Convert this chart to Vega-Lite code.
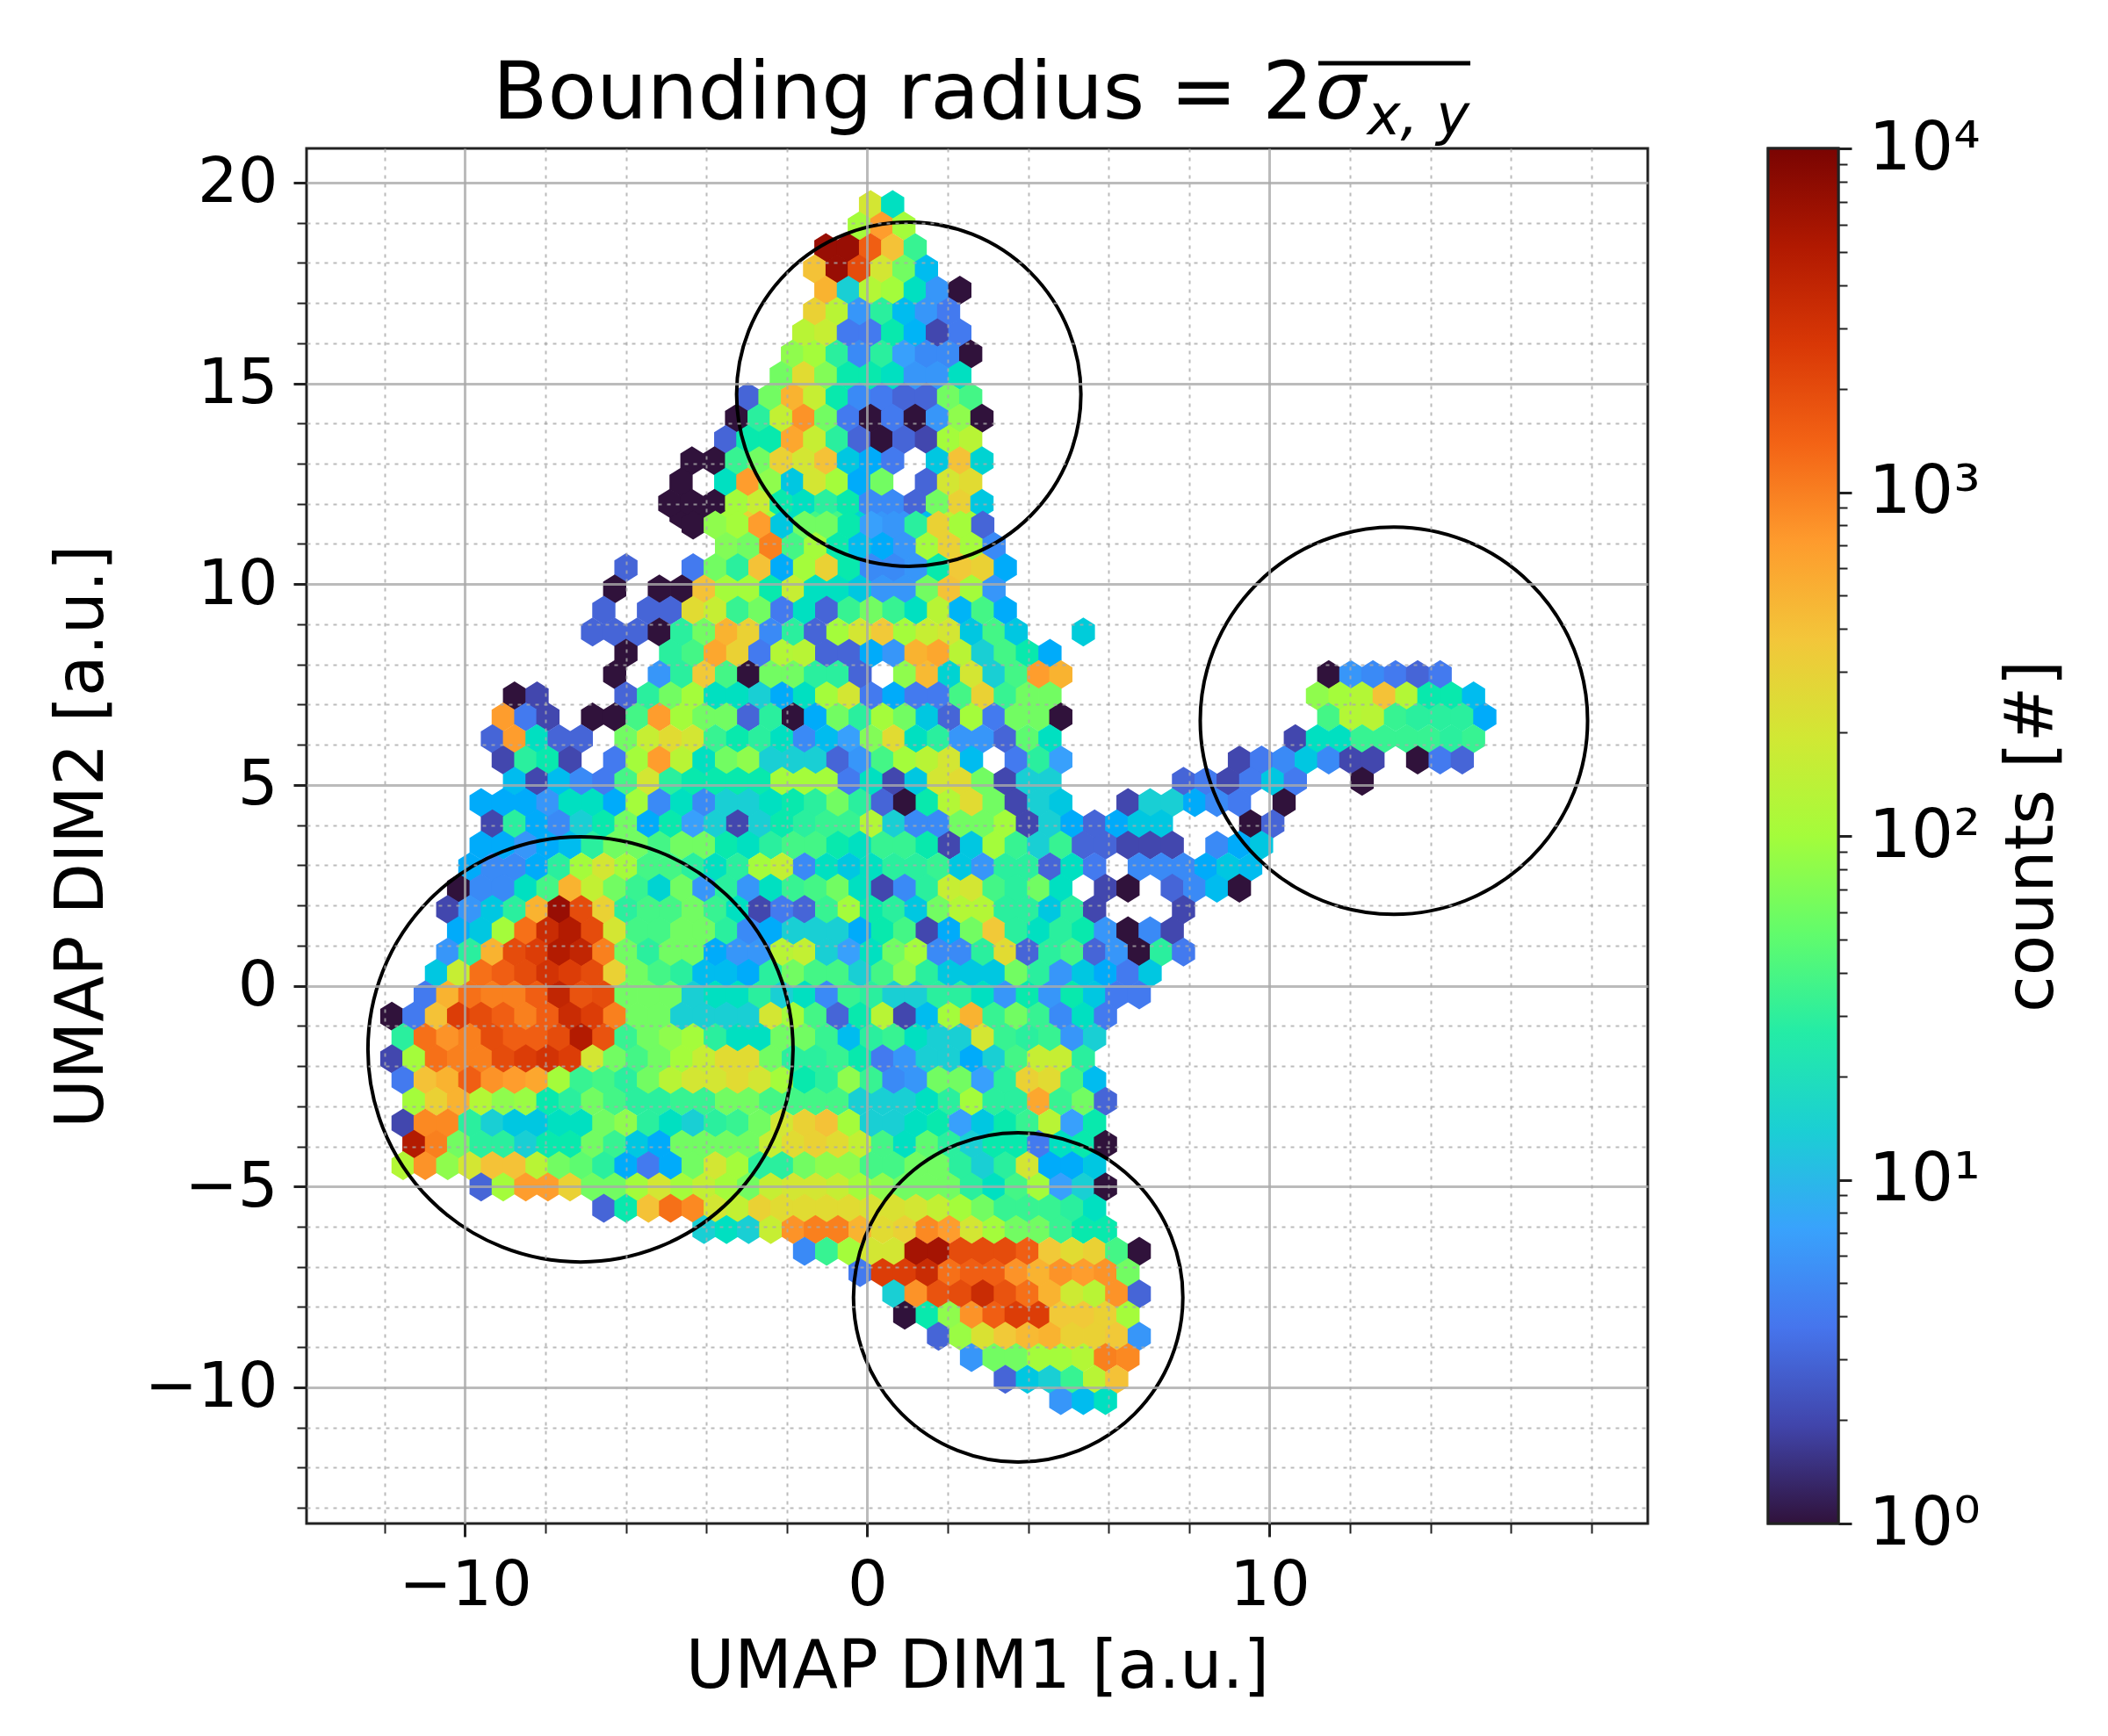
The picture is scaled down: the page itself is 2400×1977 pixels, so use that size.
{"$schema":"https://vega.github.io/schema/vega-lite/v6.json","padding":{"left":53,"top":60,"right":5,"bottom":5},"background":"white","config":{"font":"DejaVu Sans","view":{"stroke":"#222","strokeWidth":3}},"spacing":132,"datasets":{"hex":[
{"x":-4.63,"y":11.74,"c":1},{"x":-4.08,"y":11.74,"c":1},{"x":-3.52,"y":11.74,"c":100},{"x":-2.97,"y":11.74,"c":300},{"x":-2.42,"y":11.74,"c":100},{"x":-1.86,"y":11.74,"c":20},{"x":-1.31,"y":11.74,"c":40},{"x":-0.75,"y":11.74,"c":40},{"x":-0.2,"y":11.74,"c":15},{"x":0.36,"y":11.74,"c":6},{"x":0.91,"y":11.74,"c":6},{"x":1.47,"y":11.74,"c":10},{"x":2.02,"y":11.74,"c":150},{"x":2.57,"y":11.74,"c":100},
{"x":0.08,"y":19.45,"c":200},{"x":0.63,"y":19.45,"c":20},
{"x":-0.2,"y":18.92,"c":100},{"x":0.36,"y":18.92,"c":700},{"x":0.91,"y":18.92,"c":100},
{"x":-1.03,"y":18.38,"c":7000},{"x":-0.47,"y":18.38,"c":7000},{"x":0.08,"y":18.38,"c":1500},{"x":0.63,"y":18.38,"c":400},{"x":1.19,"y":18.38,"c":35},
{"x":-1.31,"y":17.85,"c":400},{"x":-0.75,"y":17.85,"c":7000},{"x":-0.2,"y":17.85,"c":2000},{"x":0.36,"y":17.85,"c":200},{"x":0.91,"y":17.85,"c":60},{"x":1.47,"y":17.85,"c":10},
{"x":-1.03,"y":17.32,"c":500},{"x":-0.47,"y":17.32,"c":14},{"x":0.08,"y":17.32,"c":120},{"x":0.63,"y":17.32,"c":100},{"x":1.19,"y":17.32,"c":20},{"x":1.74,"y":17.32,"c":6},{"x":2.3,"y":17.32,"c":1},
{"x":-1.31,"y":16.79,"c":300},{"x":-0.75,"y":16.79,"c":130},{"x":-0.2,"y":16.79,"c":6},{"x":0.36,"y":16.79,"c":30},{"x":0.91,"y":16.79,"c":10},{"x":1.47,"y":16.79,"c":6},{"x":2.02,"y":16.79,"c":4},
{"x":-1.58,"y":16.26,"c":130},{"x":-1.03,"y":16.26,"c":160},{"x":-0.47,"y":16.26,"c":4},{"x":0.08,"y":16.26,"c":4},{"x":0.63,"y":16.26,"c":25},{"x":1.19,"y":16.26,"c":9},{"x":1.74,"y":16.26,"c":2},{"x":2.3,"y":16.26,"c":4},
{"x":-1.86,"y":15.73,"c":80},{"x":-1.31,"y":15.73,"c":100},{"x":-0.75,"y":15.73,"c":30},{"x":-0.2,"y":15.73,"c":5},{"x":0.36,"y":15.73,"c":30},{"x":0.91,"y":15.73,"c":7},{"x":1.47,"y":15.73,"c":5},{"x":2.02,"y":15.73,"c":5},{"x":2.57,"y":15.73,"c":1},
{"x":-2.14,"y":15.2,"c":60},{"x":-1.58,"y":15.2,"c":250},{"x":-1.03,"y":15.2,"c":70},{"x":-0.47,"y":15.2,"c":25},{"x":0.08,"y":15.2,"c":25},{"x":0.63,"y":15.2,"c":20},{"x":1.19,"y":15.2,"c":6},{"x":1.74,"y":15.2,"c":6},{"x":2.3,"y":15.2,"c":20},
{"x":-2.97,"y":14.66,"c":3},{"x":-2.42,"y":14.66,"c":60},{"x":-1.86,"y":14.66,"c":500},{"x":-1.31,"y":14.66,"c":160},{"x":-0.75,"y":14.66,"c":25},{"x":-0.2,"y":14.66,"c":5},{"x":0.36,"y":14.66,"c":4},{"x":0.91,"y":14.66,"c":3},{"x":1.47,"y":14.66,"c":3},{"x":2.02,"y":14.66,"c":60},{"x":2.57,"y":14.66,"c":40},
{"x":-3.25,"y":14.13,"c":1},{"x":-2.69,"y":14.13,"c":30},{"x":-2.14,"y":14.13,"c":150},{"x":-1.58,"y":14.13,"c":800},{"x":-1.03,"y":14.13,"c":60},{"x":-0.47,"y":14.13,"c":4},{"x":0.08,"y":14.13,"c":1},{"x":0.63,"y":14.13,"c":4},{"x":1.19,"y":14.13,"c":1},{"x":1.74,"y":14.13,"c":6},{"x":2.3,"y":14.13,"c":80},{"x":2.85,"y":14.13,"c":1},
{"x":-3.52,"y":13.6,"c":3},{"x":-2.97,"y":13.6,"c":25},{"x":-2.42,"y":13.6,"c":25},{"x":-1.86,"y":13.6,"c":600},{"x":-1.31,"y":13.6,"c":160},{"x":-0.75,"y":13.6,"c":30},{"x":-0.2,"y":13.6,"c":3},{"x":0.36,"y":13.6,"c":1},{"x":0.91,"y":13.6,"c":3},{"x":1.47,"y":13.6,"c":2},{"x":2.02,"y":13.6,"c":100},{"x":2.57,"y":13.6,"c":130},
{"x":-4.36,"y":13.07,"c":1},{"x":-3.8,"y":13.07,"c":1},{"x":-3.25,"y":13.07,"c":35},{"x":-2.69,"y":13.07,"c":60},{"x":-2.14,"y":13.07,"c":300},{"x":-1.58,"y":13.07,"c":200},{"x":-1.03,"y":13.07,"c":400},{"x":-0.47,"y":13.07,"c":12},{"x":0.08,"y":13.07,"c":8},{"x":0.63,"y":13.07,"c":4},{"x":1.74,"y":13.07,"c":12},{"x":2.3,"y":13.07,"c":400},{"x":2.85,"y":13.07,"c":15},
{"x":-4.63,"y":12.54,"c":1},{"x":-3.52,"y":12.54,"c":20},{"x":-2.97,"y":12.54,"c":700},{"x":-2.42,"y":12.54,"c":80},{"x":-1.86,"y":12.54,"c":12},{"x":-1.31,"y":12.54,"c":200},{"x":-0.75,"y":12.54,"c":100},{"x":-0.2,"y":12.54,"c":8},{"x":0.36,"y":12.54,"c":60},{"x":1.47,"y":12.54,"c":3},{"x":2.02,"y":12.54,"c":200},{"x":2.57,"y":12.54,"c":250},
{"x":-4.91,"y":12.01,"c":1},{"x":-4.36,"y":12.01,"c":1},{"x":-3.8,"y":12.01,"c":1},{"x":-3.25,"y":12.01,"c":100},{"x":-2.69,"y":12.01,"c":160},{"x":-2.14,"y":12.01,"c":25},{"x":-1.58,"y":12.01,"c":20},{"x":-1.03,"y":12.01,"c":30},{"x":-0.47,"y":12.01,"c":25},{"x":0.08,"y":12.01,"c":5},{"x":0.63,"y":12.01,"c":5},{"x":1.19,"y":12.01,"c":3},{"x":1.74,"y":12.01,"c":60},{"x":2.3,"y":12.01,"c":300},{"x":2.85,"y":12.01,"c":12},
{"x":-4.33,"y":11.47,"c":1},{"x":-3.78,"y":11.47,"c":80},{"x":-3.22,"y":11.47,"c":100},{"x":-2.67,"y":11.47,"c":700},{"x":-2.12,"y":11.47,"c":12},{"x":-1.56,"y":11.47,"c":60},{"x":-1.01,"y":11.47,"c":60},{"x":-0.45,"y":11.47,"c":25},{"x":0.1,"y":11.47,"c":7},{"x":0.66,"y":11.47,"c":6},{"x":1.21,"y":11.47,"c":30},{"x":1.77,"y":11.47,"c":300},{"x":2.32,"y":11.47,"c":100},{"x":2.87,"y":11.47,"c":3},
{"x":-3.5,"y":10.94,"c":70},{"x":-2.95,"y":10.94,"c":60},{"x":-2.4,"y":10.94,"c":1000},{"x":-1.84,"y":10.94,"c":40},{"x":-1.29,"y":10.94,"c":100},{"x":-0.73,"y":10.94,"c":25},{"x":-0.18,"y":10.94,"c":10},{"x":0.38,"y":10.94,"c":8},{"x":0.93,"y":10.94,"c":6},{"x":1.49,"y":10.94,"c":100},{"x":2.04,"y":10.94,"c":300},{"x":2.59,"y":10.94,"c":100},{"x":3.15,"y":10.94,"c":5},
{"x":-6,"y":10.41,"c":3},{"x":-4.33,"y":10.41,"c":4},{"x":-3.78,"y":10.41,"c":60},{"x":-3.22,"y":10.41,"c":30},{"x":-2.67,"y":10.41,"c":400},{"x":-2.12,"y":10.41,"c":8},{"x":-1.56,"y":10.41,"c":100},{"x":-1.01,"y":10.41,"c":300},{"x":-0.45,"y":10.41,"c":25},{"x":0.1,"y":10.41,"c":5},{"x":0.66,"y":10.41,"c":5},{"x":1.21,"y":10.41,"c":6},{"x":1.77,"y":10.41,"c":25},{"x":2.32,"y":10.41,"c":350},{"x":2.87,"y":10.41,"c":300},{"x":3.43,"y":10.41,"c":8},
{"x":-6.28,"y":9.88,"c":1},{"x":-5.17,"y":9.88,"c":1},{"x":-4.61,"y":9.88,"c":1},{"x":-4.06,"y":9.88,"c":400},{"x":-3.5,"y":9.88,"c":100},{"x":-2.95,"y":9.88,"c":100},{"x":-2.4,"y":9.88,"c":25},{"x":-1.84,"y":9.88,"c":160},{"x":-1.29,"y":9.88,"c":20},{"x":-0.73,"y":9.88,"c":20},{"x":-0.18,"y":9.88,"c":12},{"x":0.38,"y":9.88,"c":6},{"x":0.93,"y":9.88,"c":6},{"x":1.49,"y":9.88,"c":60},{"x":2.04,"y":9.88,"c":400},{"x":2.59,"y":9.88,"c":100},{"x":3.15,"y":9.88,"c":6},
{"x":-6.55,"y":9.35,"c":3},{"x":-5.44,"y":9.35,"c":3},{"x":-4.89,"y":9.35,"c":3},{"x":-4.33,"y":9.35,"c":250},{"x":-3.78,"y":9.35,"c":160},{"x":-3.22,"y":9.35,"c":35},{"x":-2.67,"y":9.35,"c":60},{"x":-2.12,"y":9.35,"c":4},{"x":-1.56,"y":9.35,"c":20},{"x":-1.01,"y":9.35,"c":3},{"x":-0.45,"y":9.35,"c":35},{"x":0.1,"y":9.35,"c":60},{"x":0.66,"y":9.35,"c":35},{"x":1.21,"y":9.35,"c":20},{"x":1.77,"y":9.35,"c":130},{"x":2.32,"y":9.35,"c":9},{"x":2.87,"y":9.35,"c":40},{"x":3.43,"y":9.35,"c":8},
{"x":-6.83,"y":8.81,"c":3},{"x":-6.28,"y":8.81,"c":3},{"x":-5.72,"y":8.81,"c":3},{"x":-5.17,"y":8.81,"c":1},{"x":-4.61,"y":8.81,"c":30},{"x":-4.06,"y":8.81,"c":60},{"x":-3.5,"y":8.81,"c":500},{"x":-2.95,"y":8.81,"c":300},{"x":-2.4,"y":8.81,"c":5},{"x":-1.84,"y":8.81,"c":30},{"x":-1.29,"y":8.81,"c":3},{"x":-0.73,"y":8.81,"c":100},{"x":-0.18,"y":8.81,"c":200},{"x":0.38,"y":8.81,"c":350},{"x":0.93,"y":8.81,"c":100},{"x":1.49,"y":8.81,"c":160},{"x":2.04,"y":8.81,"c":200},{"x":2.59,"y":8.81,"c":12},{"x":3.15,"y":8.81,"c":40},{"x":3.7,"y":8.81,"c":12},{"x":5.37,"y":8.81,"c":13},
{"x":-6,"y":8.28,"c":1},{"x":-4.89,"y":8.28,"c":30},{"x":-4.33,"y":8.28,"c":40},{"x":-3.78,"y":8.28,"c":600},{"x":-3.22,"y":8.28,"c":300},{"x":-2.67,"y":8.28,"c":4},{"x":-2.12,"y":8.28,"c":120},{"x":-1.56,"y":8.28,"c":130},{"x":-1.01,"y":8.28,"c":3},{"x":-0.45,"y":8.28,"c":3},{"x":0.1,"y":8.28,"c":8},{"x":0.66,"y":8.28,"c":6},{"x":1.21,"y":8.28,"c":500},{"x":1.77,"y":8.28,"c":600},{"x":2.32,"y":8.28,"c":130},{"x":2.87,"y":8.28,"c":14},{"x":3.43,"y":8.28,"c":40},{"x":3.98,"y":8.28,"c":25},{"x":4.54,"y":8.28,"c":8},
{"x":-6.28,"y":7.75,"c":1},{"x":-5.17,"y":7.75,"c":6},{"x":-4.61,"y":7.75,"c":30},{"x":-4.06,"y":7.75,"c":350},{"x":-3.5,"y":7.75,"c":40},{"x":-2.95,"y":7.75,"c":1},{"x":-2.4,"y":7.75,"c":60},{"x":-1.84,"y":7.75,"c":60},{"x":-1.29,"y":7.75,"c":30},{"x":-0.73,"y":7.75,"c":30},{"x":-0.18,"y":7.75,"c":3},{"x":0.93,"y":7.75,"c":80},{"x":1.49,"y":7.75,"c":450},{"x":2.04,"y":7.75,"c":15},{"x":2.59,"y":7.75,"c":200},{"x":3.15,"y":7.75,"c":14},{"x":3.7,"y":7.75,"c":40},{"x":4.26,"y":7.75,"c":700},{"x":4.81,"y":7.75,"c":500},{"x":11.47,"y":7.75,"c":1},{"x":12.02,"y":7.75,"c":6},{"x":12.57,"y":7.75,"c":5},{"x":13.13,"y":7.75,"c":4},{"x":13.68,"y":7.75,"c":3},{"x":14.24,"y":7.75,"c":4},
{"x":-8.77,"y":7.22,"c":1},{"x":-8.21,"y":7.22,"c":2},{"x":-6,"y":7.22,"c":3},{"x":-5.44,"y":7.22,"c":30},{"x":-4.89,"y":7.22,"c":60},{"x":-4.33,"y":7.22,"c":100},{"x":-3.78,"y":7.22,"c":20},{"x":-3.22,"y":7.22,"c":20},{"x":-2.67,"y":7.22,"c":14},{"x":-2.12,"y":7.22,"c":8},{"x":-1.56,"y":7.22,"c":20},{"x":-1.01,"y":7.22,"c":100},{"x":-0.45,"y":7.22,"c":200},{"x":0.1,"y":7.22,"c":4},{"x":0.66,"y":7.22,"c":8},{"x":1.21,"y":7.22,"c":4},{"x":1.77,"y":7.22,"c":4},{"x":2.32,"y":7.22,"c":40},{"x":2.87,"y":7.22,"c":300},{"x":3.43,"y":7.22,"c":35},{"x":3.98,"y":7.22,"c":60},{"x":4.54,"y":7.22,"c":60},{"x":11.19,"y":7.22,"c":80},{"x":11.75,"y":7.22,"c":100},{"x":12.3,"y":7.22,"c":120},{"x":12.85,"y":7.22,"c":400},{"x":13.41,"y":7.22,"c":120},{"x":13.96,"y":7.22,"c":25},{"x":14.52,"y":7.22,"c":25},{"x":15.07,"y":7.22,"c":10},
{"x":-9.05,"y":6.69,"c":700},{"x":-8.49,"y":6.69,"c":4},{"x":-7.94,"y":6.69,"c":2},{"x":-6.83,"y":6.69,"c":1},{"x":-6.28,"y":6.69,"c":1},{"x":-5.72,"y":6.69,"c":40},{"x":-5.17,"y":6.69,"c":700},{"x":-4.61,"y":6.69,"c":100},{"x":-4.06,"y":6.69,"c":60},{"x":-3.5,"y":6.69,"c":60},{"x":-2.95,"y":6.69,"c":3},{"x":-2.4,"y":6.69,"c":30},{"x":-1.84,"y":6.69,"c":1},{"x":-1.29,"y":6.69,"c":8},{"x":-0.73,"y":6.69,"c":60},{"x":-0.18,"y":6.69,"c":30},{"x":0.38,"y":6.69,"c":100},{"x":0.93,"y":6.69,"c":60},{"x":1.49,"y":6.69,"c":12},{"x":2.04,"y":6.69,"c":3},{"x":2.59,"y":6.69,"c":100},{"x":3.15,"y":6.69,"c":4},{"x":3.7,"y":6.69,"c":60},{"x":4.26,"y":6.69,"c":60},{"x":4.81,"y":6.69,"c":1},{"x":11.47,"y":6.69,"c":40},{"x":12.02,"y":6.69,"c":120},{"x":12.57,"y":6.69,"c":130},{"x":13.13,"y":6.69,"c":35},{"x":13.68,"y":6.69,"c":30},{"x":14.24,"y":6.69,"c":30},{"x":14.79,"y":6.69,"c":30},{"x":15.35,"y":6.69,"c":8},
{"x":-9.32,"y":6.15,"c":3},{"x":-8.77,"y":6.15,"c":700},{"x":-8.21,"y":6.15,"c":20},{"x":-7.66,"y":6.15,"c":3},{"x":-7.11,"y":6.15,"c":3},{"x":-6,"y":6.15,"c":60},{"x":-5.44,"y":6.15,"c":160},{"x":-4.89,"y":6.15,"c":250},{"x":-4.33,"y":6.15,"c":200},{"x":-3.78,"y":6.15,"c":35},{"x":-3.22,"y":6.15,"c":25},{"x":-2.67,"y":6.15,"c":30},{"x":-2.12,"y":6.15,"c":20},{"x":-1.56,"y":6.15,"c":5},{"x":-1.01,"y":6.15,"c":10},{"x":-0.45,"y":6.15,"c":7},{"x":0.1,"y":6.15,"c":70},{"x":0.66,"y":6.15,"c":250},{"x":1.21,"y":6.15,"c":20},{"x":1.77,"y":6.15,"c":30},{"x":2.32,"y":6.15,"c":6},{"x":2.87,"y":6.15,"c":6},{"x":3.43,"y":6.15,"c":3},{"x":3.98,"y":6.15,"c":50},{"x":4.54,"y":6.15,"c":20},{"x":10.64,"y":6.15,"c":2},{"x":11.19,"y":6.15,"c":20},{"x":11.75,"y":6.15,"c":20},{"x":12.3,"y":6.15,"c":35},{"x":12.85,"y":6.15,"c":35},{"x":13.41,"y":6.15,"c":35},{"x":13.96,"y":6.15,"c":35},{"x":14.52,"y":6.15,"c":30},{"x":15.07,"y":6.15,"c":35},
{"x":-9.05,"y":5.62,"c":2},{"x":-8.49,"y":5.62,"c":30},{"x":-7.94,"y":5.62,"c":25},{"x":-7.39,"y":5.62,"c":2},{"x":-6.28,"y":5.62,"c":4},{"x":-5.72,"y":5.62,"c":100},{"x":-5.17,"y":5.62,"c":700},{"x":-4.61,"y":5.62,"c":130},{"x":-4.06,"y":5.62,"c":20},{"x":-3.5,"y":5.62,"c":60},{"x":-2.95,"y":5.62,"c":80},{"x":-2.4,"y":5.62,"c":14},{"x":-1.84,"y":5.62,"c":14},{"x":-1.29,"y":5.62,"c":14},{"x":-0.73,"y":5.62,"c":3},{"x":-0.18,"y":5.62,"c":6},{"x":0.38,"y":5.62,"c":40},{"x":0.93,"y":5.62,"c":100},{"x":1.49,"y":5.62,"c":130},{"x":2.04,"y":5.62,"c":200},{"x":2.59,"y":5.62,"c":10},{"x":3.7,"y":5.62,"c":4},{"x":4.26,"y":5.62,"c":30},{"x":4.81,"y":5.62,"c":7},{"x":9.25,"y":5.62,"c":2},{"x":9.8,"y":5.62,"c":4},{"x":10.36,"y":5.62,"c":5},{"x":10.91,"y":5.62,"c":12},{"x":11.47,"y":5.62,"c":5},{"x":12.02,"y":5.62,"c":2},{"x":12.57,"y":5.62,"c":2},{"x":13.68,"y":5.62,"c":1},{"x":14.24,"y":5.62,"c":4},{"x":14.79,"y":5.62,"c":3},
{"x":-8.77,"y":5.09,"c":10},{"x":-8.21,"y":5.09,"c":2},{"x":-7.66,"y":5.09,"c":10},{"x":-7.11,"y":5.09,"c":5},{"x":-6.55,"y":5.09,"c":4},{"x":-6,"y":5.09,"c":40},{"x":-5.44,"y":5.09,"c":200},{"x":-4.89,"y":5.09,"c":30},{"x":-4.33,"y":5.09,"c":25},{"x":-3.78,"y":5.09,"c":25},{"x":-3.22,"y":5.09,"c":25},{"x":-2.67,"y":5.09,"c":25},{"x":-2.12,"y":5.09,"c":100},{"x":-1.56,"y":5.09,"c":100},{"x":-1.01,"y":5.09,"c":100},{"x":-0.45,"y":5.09,"c":4},{"x":0.1,"y":5.09,"c":20},{"x":0.66,"y":5.09,"c":2},{"x":1.21,"y":5.09,"c":12},{"x":1.77,"y":5.09,"c":200},{"x":2.32,"y":5.09,"c":250},{"x":2.87,"y":5.09,"c":60},{"x":3.43,"y":5.09,"c":2},{"x":3.98,"y":5.09,"c":14},{"x":4.54,"y":5.09,"c":14},{"x":7.86,"y":5.09,"c":3},{"x":8.42,"y":5.09,"c":4},{"x":8.97,"y":5.09,"c":2},{"x":9.53,"y":5.09,"c":4},{"x":10.08,"y":5.09,"c":12},{"x":10.64,"y":5.09,"c":4},{"x":12.3,"y":5.09,"c":1},
{"x":-9.6,"y":4.56,"c":8},{"x":-9.05,"y":4.56,"c":8},{"x":-8.49,"y":4.56,"c":8},{"x":-7.94,"y":4.56,"c":6},{"x":-7.39,"y":4.56,"c":20},{"x":-6.83,"y":4.56,"c":20},{"x":-6.28,"y":4.56,"c":8},{"x":-5.72,"y":4.56,"c":100},{"x":-5.17,"y":4.56,"c":5},{"x":-4.61,"y":4.56,"c":20},{"x":-4.06,"y":4.56,"c":5},{"x":-3.5,"y":4.56,"c":14},{"x":-2.95,"y":4.56,"c":14},{"x":-2.4,"y":4.56,"c":20},{"x":-1.84,"y":4.56,"c":25},{"x":-1.29,"y":4.56,"c":30},{"x":-0.73,"y":4.56,"c":60},{"x":-0.18,"y":4.56,"c":30},{"x":0.38,"y":4.56,"c":3},{"x":0.93,"y":4.56,"c":1},{"x":1.49,"y":4.56,"c":25},{"x":2.04,"y":4.56,"c":120},{"x":2.59,"y":4.56,"c":250},{"x":3.15,"y":4.56,"c":60},{"x":3.7,"y":4.56,"c":2},{"x":4.26,"y":4.56,"c":14},{"x":4.81,"y":4.56,"c":12},{"x":6.48,"y":4.56,"c":2},{"x":7.03,"y":4.56,"c":14},{"x":7.58,"y":4.56,"c":14},{"x":8.14,"y":4.56,"c":8},{"x":8.69,"y":4.56,"c":5},{"x":9.25,"y":4.56,"c":4},{"x":10.36,"y":4.56,"c":1},
{"x":-9.32,"y":4.03,"c":2},{"x":-8.77,"y":4.03,"c":30},{"x":-8.21,"y":4.03,"c":8},{"x":-7.66,"y":4.03,"c":5},{"x":-7.11,"y":4.03,"c":14},{"x":-6.55,"y":4.03,"c":25},{"x":-6,"y":4.03,"c":60},{"x":-5.44,"y":4.03,"c":8},{"x":-4.89,"y":4.03,"c":25},{"x":-4.33,"y":4.03,"c":7},{"x":-3.78,"y":4.03,"c":14},{"x":-3.22,"y":4.03,"c":2},{"x":-2.67,"y":4.03,"c":14},{"x":-2.12,"y":4.03,"c":25},{"x":-1.56,"y":4.03,"c":30},{"x":-1.01,"y":4.03,"c":35},{"x":-0.45,"y":4.03,"c":35},{"x":0.1,"y":4.03,"c":120},{"x":0.66,"y":4.03,"c":14},{"x":1.21,"y":4.03,"c":5},{"x":1.77,"y":4.03,"c":5},{"x":2.32,"y":4.03,"c":60},{"x":2.87,"y":4.03,"c":60},{"x":3.43,"y":4.03,"c":100},{"x":3.98,"y":4.03,"c":2},{"x":4.54,"y":4.03,"c":14},{"x":5.09,"y":4.03,"c":8},{"x":5.65,"y":4.03,"c":3},{"x":6.2,"y":4.03,"c":8},{"x":6.76,"y":4.03,"c":12},{"x":7.31,"y":4.03,"c":12},{"x":9.53,"y":4.03,"c":1},{"x":10.08,"y":4.03,"c":3},
{"x":-9.6,"y":3.5,"c":8},{"x":-9.05,"y":3.5,"c":8},{"x":-8.49,"y":3.5,"c":6},{"x":-7.94,"y":3.5,"c":8},{"x":-7.39,"y":3.5,"c":10},{"x":-6.83,"y":3.5,"c":30},{"x":-6.28,"y":3.5,"c":60},{"x":-5.72,"y":3.5,"c":60},{"x":-5.17,"y":3.5,"c":40},{"x":-4.61,"y":3.5,"c":60},{"x":-4.06,"y":3.5,"c":60},{"x":-3.5,"y":3.5,"c":25},{"x":-2.95,"y":3.5,"c":20},{"x":-2.4,"y":3.5,"c":30},{"x":-1.84,"y":3.5,"c":40},{"x":-1.29,"y":3.5,"c":40},{"x":-0.73,"y":3.5,"c":25},{"x":-0.18,"y":3.5,"c":20},{"x":0.38,"y":3.5,"c":35},{"x":0.93,"y":3.5,"c":35},{"x":1.49,"y":3.5,"c":25},{"x":2.04,"y":3.5,"c":2},{"x":2.59,"y":3.5,"c":12},{"x":3.15,"y":3.5,"c":100},{"x":3.7,"y":3.5,"c":35},{"x":4.26,"y":3.5,"c":14},{"x":4.81,"y":3.5,"c":35},{"x":5.37,"y":3.5,"c":3},{"x":5.92,"y":3.5,"c":3},{"x":6.48,"y":3.5,"c":2},{"x":7.03,"y":3.5,"c":2},{"x":7.58,"y":3.5,"c":2},{"x":8.69,"y":3.5,"c":5},{"x":9.25,"y":3.5,"c":8},{"x":9.8,"y":3.5,"c":12},
{"x":-9.88,"y":2.96,"c":8},{"x":-9.32,"y":2.96,"c":5},{"x":-8.77,"y":2.96,"c":5},{"x":-8.21,"y":2.96,"c":8},{"x":-7.66,"y":2.96,"c":30},{"x":-7.11,"y":2.96,"c":100},{"x":-6.55,"y":2.96,"c":200},{"x":-6,"y":2.96,"c":100},{"x":-5.44,"y":2.96,"c":40},{"x":-4.89,"y":2.96,"c":40},{"x":-4.33,"y":2.96,"c":30},{"x":-3.78,"y":2.96,"c":20},{"x":-3.22,"y":2.96,"c":30},{"x":-2.67,"y":2.96,"c":100},{"x":-2.12,"y":2.96,"c":150},{"x":-1.56,"y":2.96,"c":5},{"x":-1.01,"y":2.96,"c":20},{"x":-0.45,"y":2.96,"c":12},{"x":0.1,"y":2.96,"c":20},{"x":0.66,"y":2.96,"c":30},{"x":1.21,"y":2.96,"c":30},{"x":1.77,"y":2.96,"c":35},{"x":2.32,"y":2.96,"c":12},{"x":2.87,"y":2.96,"c":6},{"x":3.43,"y":2.96,"c":30},{"x":3.98,"y":2.96,"c":30},{"x":4.54,"y":2.96,"c":3},{"x":5.09,"y":2.96,"c":20},{"x":5.65,"y":2.96,"c":4},{"x":6.76,"y":2.96,"c":5},{"x":7.31,"y":2.96,"c":5},{"x":7.86,"y":2.96,"c":5},{"x":8.42,"y":2.96,"c":8},{"x":8.97,"y":2.96,"c":12},{"x":9.53,"y":2.96,"c":10},
{"x":-10.16,"y":2.43,"c":1},{"x":-9.6,"y":2.43,"c":5},{"x":-9.05,"y":2.43,"c":5},{"x":-8.49,"y":2.43,"c":20},{"x":-7.94,"y":2.43,"c":40},{"x":-7.39,"y":2.43,"c":500},{"x":-6.83,"y":2.43,"c":150},{"x":-6.28,"y":2.43,"c":60},{"x":-5.72,"y":2.43,"c":35},{"x":-5.17,"y":2.43,"c":15},{"x":-4.61,"y":2.43,"c":60},{"x":-4.06,"y":2.43,"c":6},{"x":-3.5,"y":2.43,"c":30},{"x":-2.95,"y":2.43,"c":6},{"x":-2.4,"y":2.43,"c":20},{"x":-1.84,"y":2.43,"c":35},{"x":-1.29,"y":2.43,"c":40},{"x":-0.73,"y":2.43,"c":60},{"x":-0.18,"y":2.43,"c":20},{"x":0.38,"y":2.43,"c":2},{"x":0.93,"y":2.43,"c":5},{"x":1.49,"y":2.43,"c":30},{"x":2.04,"y":2.43,"c":160},{"x":2.59,"y":2.43,"c":200},{"x":3.15,"y":2.43,"c":40},{"x":3.7,"y":2.43,"c":30},{"x":4.26,"y":2.43,"c":60},{"x":4.81,"y":2.43,"c":20},{"x":5.92,"y":2.43,"c":2},{"x":6.48,"y":2.43,"c":1},{"x":7.58,"y":2.43,"c":3},{"x":8.14,"y":2.43,"c":5},{"x":8.69,"y":2.43,"c":10},{"x":9.25,"y":2.43,"c":1},
{"x":-10.43,"y":1.9,"c":2},{"x":-9.88,"y":1.9,"c":6},{"x":-9.32,"y":1.9,"c":12},{"x":-8.77,"y":1.9,"c":30},{"x":-8.21,"y":1.9,"c":500},{"x":-7.66,"y":1.9,"c":7000},{"x":-7.11,"y":1.9,"c":2000},{"x":-6.55,"y":1.9,"c":300},{"x":-6,"y":1.9,"c":30},{"x":-5.44,"y":1.9,"c":40},{"x":-4.89,"y":1.9,"c":40},{"x":-4.33,"y":1.9,"c":60},{"x":-3.78,"y":1.9,"c":35},{"x":-3.22,"y":1.9,"c":20},{"x":-2.67,"y":1.9,"c":2},{"x":-2.12,"y":1.9,"c":4},{"x":-1.56,"y":1.9,"c":3},{"x":-1.01,"y":1.9,"c":35},{"x":-0.45,"y":1.9,"c":100},{"x":0.1,"y":1.9,"c":25},{"x":0.66,"y":1.9,"c":30},{"x":1.21,"y":1.9,"c":12},{"x":1.77,"y":1.9,"c":60},{"x":2.32,"y":1.9,"c":120},{"x":2.87,"y":1.9,"c":120},{"x":3.43,"y":1.9,"c":30},{"x":3.98,"y":1.9,"c":30},{"x":4.54,"y":1.9,"c":12},{"x":5.09,"y":1.9,"c":30},{"x":5.65,"y":1.9,"c":2},{"x":7.86,"y":1.9,"c":2},
{"x":-10.16,"y":1.37,"c":8},{"x":-9.6,"y":1.37,"c":12},{"x":-9.05,"y":1.37,"c":100},{"x":-8.49,"y":1.37,"c":1200},{"x":-7.94,"y":1.37,"c":3500},{"x":-7.39,"y":1.37,"c":5000},{"x":-6.83,"y":1.37,"c":2000},{"x":-6.28,"y":1.37,"c":200},{"x":-5.72,"y":1.37,"c":40},{"x":-5.17,"y":1.37,"c":40},{"x":-4.61,"y":1.37,"c":60},{"x":-4.06,"y":1.37,"c":60},{"x":-3.5,"y":1.37,"c":30},{"x":-2.95,"y":1.37,"c":5},{"x":-2.4,"y":1.37,"c":8},{"x":-1.84,"y":1.37,"c":14},{"x":-1.29,"y":1.37,"c":14},{"x":-0.73,"y":1.37,"c":14},{"x":-0.18,"y":1.37,"c":8},{"x":0.38,"y":1.37,"c":25},{"x":0.93,"y":1.37,"c":40},{"x":1.49,"y":1.37,"c":2},{"x":2.04,"y":1.37,"c":8},{"x":2.59,"y":1.37,"c":60},{"x":3.15,"y":1.37,"c":350},{"x":3.7,"y":1.37,"c":30},{"x":4.26,"y":1.37,"c":20},{"x":4.81,"y":1.37,"c":30},{"x":5.37,"y":1.37,"c":25},{"x":5.92,"y":1.37,"c":6},{"x":6.48,"y":1.37,"c":1},{"x":7.03,"y":1.37,"c":5},{"x":7.58,"y":1.37,"c":2},
{"x":-10.43,"y":0.84,"c":6},{"x":-9.88,"y":0.84,"c":30},{"x":-9.32,"y":0.84,"c":500},{"x":-8.77,"y":0.84,"c":2000},{"x":-8.21,"y":0.84,"c":2500},{"x":-7.66,"y":0.84,"c":5000},{"x":-7.11,"y":0.84,"c":4000},{"x":-6.55,"y":0.84,"c":1000},{"x":-6,"y":0.84,"c":60},{"x":-5.44,"y":0.84,"c":30},{"x":-4.89,"y":0.84,"c":60},{"x":-4.33,"y":0.84,"c":60},{"x":-3.78,"y":0.84,"c":8},{"x":-3.22,"y":0.84,"c":6},{"x":-2.67,"y":0.84,"c":6},{"x":-2.12,"y":0.84,"c":130},{"x":-1.56,"y":0.84,"c":150},{"x":-1.01,"y":0.84,"c":14},{"x":-0.45,"y":0.84,"c":7},{"x":0.1,"y":0.84,"c":20},{"x":0.66,"y":0.84,"c":60},{"x":1.21,"y":0.84,"c":100},{"x":1.77,"y":0.84,"c":5},{"x":2.32,"y":0.84,"c":5},{"x":2.87,"y":0.84,"c":30},{"x":3.43,"y":0.84,"c":250},{"x":3.98,"y":0.84,"c":3},{"x":4.54,"y":0.84,"c":30},{"x":5.09,"y":0.84,"c":40},{"x":5.65,"y":0.84,"c":3},{"x":6.2,"y":0.84,"c":6},{"x":6.76,"y":0.84,"c":1},{"x":7.31,"y":0.84,"c":30},{"x":7.86,"y":0.84,"c":4},
{"x":-10.71,"y":0.31,"c":12},{"x":-10.16,"y":0.31,"c":160},{"x":-9.6,"y":0.31,"c":1200},{"x":-9.05,"y":0.31,"c":1500},{"x":-8.49,"y":0.31,"c":2000},{"x":-7.94,"y":0.31,"c":3000},{"x":-7.39,"y":0.31,"c":2500},{"x":-6.83,"y":0.31,"c":2000},{"x":-6.28,"y":0.31,"c":300},{"x":-5.72,"y":0.31,"c":60},{"x":-5.17,"y":0.31,"c":40},{"x":-4.61,"y":0.31,"c":30},{"x":-4.06,"y":0.31,"c":10},{"x":-3.5,"y":0.31,"c":10},{"x":-2.95,"y":0.31,"c":8},{"x":-2.4,"y":0.31,"c":30},{"x":-1.84,"y":0.31,"c":60},{"x":-1.29,"y":0.31,"c":40},{"x":-0.73,"y":0.31,"c":40},{"x":-0.18,"y":0.31,"c":14},{"x":0.38,"y":0.31,"c":40},{"x":0.93,"y":0.31,"c":80},{"x":1.49,"y":0.31,"c":30},{"x":2.04,"y":0.31,"c":12},{"x":2.59,"y":0.31,"c":12},{"x":3.15,"y":0.31,"c":12},{"x":3.7,"y":0.31,"c":60},{"x":4.26,"y":0.31,"c":30},{"x":4.81,"y":0.31,"c":6},{"x":5.37,"y":0.31,"c":12},{"x":5.92,"y":0.31,"c":8},{"x":6.48,"y":0.31,"c":4},{"x":7.03,"y":0.31,"c":12},
{"x":-10.99,"y":-0.23,"c":4},{"x":-10.43,"y":-0.23,"c":500},{"x":-9.88,"y":-0.23,"c":1200},{"x":-9.32,"y":-0.23,"c":1000},{"x":-8.77,"y":-0.23,"c":1000},{"x":-8.21,"y":-0.23,"c":1500},{"x":-7.66,"y":-0.23,"c":4000},{"x":-7.11,"y":-0.23,"c":1800},{"x":-6.55,"y":-0.23,"c":2000},{"x":-6,"y":-0.23,"c":60},{"x":-5.44,"y":-0.23,"c":60},{"x":-4.89,"y":-0.23,"c":60},{"x":-4.33,"y":-0.23,"c":14},{"x":-3.78,"y":-0.23,"c":20},{"x":-3.22,"y":-0.23,"c":20},{"x":-2.67,"y":-0.23,"c":30},{"x":-2.12,"y":-0.23,"c":14},{"x":-1.56,"y":-0.23,"c":20},{"x":-1.01,"y":-0.23,"c":5},{"x":-0.45,"y":-0.23,"c":35},{"x":0.1,"y":-0.23,"c":30},{"x":0.66,"y":-0.23,"c":14},{"x":1.21,"y":-0.23,"c":14},{"x":1.77,"y":-0.23,"c":30},{"x":2.32,"y":-0.23,"c":30},{"x":2.87,"y":-0.23,"c":20},{"x":3.43,"y":-0.23,"c":6},{"x":3.98,"y":-0.23,"c":25},{"x":4.54,"y":-0.23,"c":6},{"x":5.09,"y":-0.23,"c":25},{"x":5.65,"y":-0.23,"c":12},{"x":6.2,"y":-0.23,"c":4},{"x":6.76,"y":-0.23,"c":4},
{"x":-11.82,"y":-0.76,"c":1},{"x":-11.27,"y":-0.76,"c":4},{"x":-10.71,"y":-0.76,"c":400},{"x":-10.16,"y":-0.76,"c":2500},{"x":-9.6,"y":-0.76,"c":2000},{"x":-9.05,"y":-0.76,"c":1500},{"x":-8.49,"y":-0.76,"c":1000},{"x":-7.94,"y":-0.76,"c":1500},{"x":-7.39,"y":-0.76,"c":3500},{"x":-6.83,"y":-0.76,"c":2500},{"x":-6.28,"y":-0.76,"c":1000},{"x":-5.72,"y":-0.76,"c":60},{"x":-5.17,"y":-0.76,"c":60},{"x":-4.61,"y":-0.76,"c":14},{"x":-4.06,"y":-0.76,"c":14},{"x":-3.5,"y":-0.76,"c":14},{"x":-2.95,"y":-0.76,"c":14},{"x":-2.4,"y":-0.76,"c":200},{"x":-1.84,"y":-0.76,"c":100},{"x":-1.29,"y":-0.76,"c":40},{"x":-0.73,"y":-0.76,"c":3},{"x":-0.18,"y":-0.76,"c":25},{"x":0.38,"y":-0.76,"c":130},{"x":0.93,"y":-0.76,"c":2},{"x":1.49,"y":-0.76,"c":10},{"x":2.04,"y":-0.76,"c":100},{"x":2.59,"y":-0.76,"c":500},{"x":3.15,"y":-0.76,"c":35},{"x":3.7,"y":-0.76,"c":60},{"x":4.26,"y":-0.76,"c":35},{"x":4.81,"y":-0.76,"c":5},{"x":5.37,"y":-0.76,"c":20},{"x":5.92,"y":-0.76,"c":4},
{"x":-11.54,"y":-1.29,"c":30},{"x":-10.99,"y":-1.29,"c":1200},{"x":-10.43,"y":-1.29,"c":800},{"x":-9.88,"y":-1.29,"c":1000},{"x":-9.32,"y":-1.29,"c":2000},{"x":-8.77,"y":-1.29,"c":1500},{"x":-8.21,"y":-1.29,"c":1500},{"x":-7.66,"y":-1.29,"c":2000},{"x":-7.11,"y":-1.29,"c":5000},{"x":-6.55,"y":-1.29,"c":1800},{"x":-6,"y":-1.29,"c":35},{"x":-5.44,"y":-1.29,"c":60},{"x":-4.89,"y":-1.29,"c":80},{"x":-4.33,"y":-1.29,"c":100},{"x":-3.78,"y":-1.29,"c":30},{"x":-3.22,"y":-1.29,"c":20},{"x":-2.67,"y":-1.29,"c":20},{"x":-2.12,"y":-1.29,"c":60},{"x":-1.56,"y":-1.29,"c":60},{"x":-1.01,"y":-1.29,"c":35},{"x":-0.45,"y":-1.29,"c":10},{"x":0.1,"y":-1.29,"c":30},{"x":0.66,"y":-1.29,"c":35},{"x":1.21,"y":-1.29,"c":20},{"x":1.77,"y":-1.29,"c":14},{"x":2.32,"y":-1.29,"c":14},{"x":2.87,"y":-1.29,"c":200},{"x":3.43,"y":-1.29,"c":35},{"x":3.98,"y":-1.29,"c":30},{"x":4.54,"y":-1.29,"c":35},{"x":5.09,"y":-1.29,"c":6},{"x":5.65,"y":-1.29,"c":14},
{"x":-11.82,"y":-1.82,"c":2},{"x":-11.27,"y":-1.82,"c":100},{"x":-10.71,"y":-1.82,"c":1200},{"x":-10.16,"y":-1.82,"c":1000},{"x":-9.6,"y":-1.82,"c":1000},{"x":-9.05,"y":-1.82,"c":2000},{"x":-8.49,"y":-1.82,"c":2500},{"x":-7.94,"y":-1.82,"c":3000},{"x":-7.39,"y":-1.82,"c":2500},{"x":-6.83,"y":-1.82,"c":200},{"x":-6.28,"y":-1.82,"c":60},{"x":-5.72,"y":-1.82,"c":40},{"x":-5.17,"y":-1.82,"c":60},{"x":-4.61,"y":-1.82,"c":100},{"x":-4.06,"y":-1.82,"c":160},{"x":-3.5,"y":-1.82,"c":250},{"x":-2.95,"y":-1.82,"c":250},{"x":-2.4,"y":-1.82,"c":60},{"x":-1.84,"y":-1.82,"c":30},{"x":-1.29,"y":-1.82,"c":30},{"x":-0.73,"y":-1.82,"c":35},{"x":-0.18,"y":-1.82,"c":25},{"x":0.38,"y":-1.82,"c":4},{"x":0.93,"y":-1.82,"c":6},{"x":1.49,"y":-1.82,"c":14},{"x":2.04,"y":-1.82,"c":14},{"x":2.59,"y":-1.82,"c":8},{"x":3.15,"y":-1.82,"c":14},{"x":3.7,"y":-1.82,"c":40},{"x":4.26,"y":-1.82,"c":160},{"x":4.81,"y":-1.82,"c":160},{"x":5.37,"y":-1.82,"c":30},
{"x":-11.54,"y":-2.35,"c":4},{"x":-10.99,"y":-2.35,"c":400},{"x":-10.43,"y":-2.35,"c":500},{"x":-9.88,"y":-2.35,"c":1500},{"x":-9.32,"y":-2.35,"c":800},{"x":-8.77,"y":-2.35,"c":700},{"x":-8.21,"y":-2.35,"c":600},{"x":-7.66,"y":-2.35,"c":100},{"x":-7.11,"y":-2.35,"c":35},{"x":-6.55,"y":-2.35,"c":40},{"x":-6,"y":-2.35,"c":30},{"x":-5.44,"y":-2.35,"c":60},{"x":-4.89,"y":-2.35,"c":130},{"x":-4.33,"y":-2.35,"c":200},{"x":-3.78,"y":-2.35,"c":200},{"x":-3.22,"y":-2.35,"c":250},{"x":-2.67,"y":-2.35,"c":200},{"x":-2.12,"y":-2.35,"c":100},{"x":-1.56,"y":-2.35,"c":25},{"x":-1.01,"y":-2.35,"c":30},{"x":-0.45,"y":-2.35,"c":80},{"x":0.1,"y":-2.35,"c":35},{"x":0.66,"y":-2.35,"c":5},{"x":1.21,"y":-2.35,"c":6},{"x":1.77,"y":-2.35,"c":60},{"x":2.32,"y":-2.35,"c":60},{"x":2.87,"y":-2.35,"c":7},{"x":3.43,"y":-2.35,"c":30},{"x":3.98,"y":-2.35,"c":300},{"x":4.54,"y":-2.35,"c":250},{"x":5.09,"y":-2.35,"c":40},{"x":5.65,"y":-2.35,"c":10},
{"x":-11.27,"y":-2.88,"c":100},{"x":-10.71,"y":-2.88,"c":300},{"x":-10.16,"y":-2.88,"c":500},{"x":-9.6,"y":-2.88,"c":120},{"x":-9.05,"y":-2.88,"c":80},{"x":-8.49,"y":-2.88,"c":90},{"x":-7.94,"y":-2.88,"c":25},{"x":-7.39,"y":-2.88,"c":30},{"x":-6.83,"y":-2.88,"c":60},{"x":-6.28,"y":-2.88,"c":40},{"x":-5.72,"y":-2.88,"c":30},{"x":-5.17,"y":-2.88,"c":30},{"x":-4.61,"y":-2.88,"c":35},{"x":-4.06,"y":-2.88,"c":35},{"x":-3.5,"y":-2.88,"c":60},{"x":-2.95,"y":-2.88,"c":60},{"x":-2.4,"y":-2.88,"c":40},{"x":-1.84,"y":-2.88,"c":40},{"x":-1.29,"y":-2.88,"c":40},{"x":-0.73,"y":-2.88,"c":40},{"x":-0.18,"y":-2.88,"c":14},{"x":0.38,"y":-2.88,"c":14},{"x":0.93,"y":-2.88,"c":14},{"x":1.49,"y":-2.88,"c":20},{"x":2.04,"y":-2.88,"c":30},{"x":2.59,"y":-2.88,"c":100},{"x":3.15,"y":-2.88,"c":30},{"x":3.7,"y":-2.88,"c":30},{"x":4.26,"y":-2.88,"c":600},{"x":4.81,"y":-2.88,"c":35},{"x":5.37,"y":-2.88,"c":60},{"x":5.92,"y":-2.88,"c":3},
{"x":-11.54,"y":-3.42,"c":2},{"x":-10.99,"y":-3.42,"c":900},{"x":-10.43,"y":-3.42,"c":900},{"x":-9.88,"y":-3.42,"c":30},{"x":-9.32,"y":-3.42,"c":14},{"x":-8.77,"y":-3.42,"c":12},{"x":-8.21,"y":-3.42,"c":12},{"x":-7.66,"y":-3.42,"c":20},{"x":-7.11,"y":-3.42,"c":20},{"x":-6.55,"y":-3.42,"c":60},{"x":-6,"y":-3.42,"c":80},{"x":-5.44,"y":-3.42,"c":30},{"x":-4.89,"y":-3.42,"c":20},{"x":-4.33,"y":-3.42,"c":14},{"x":-3.78,"y":-3.42,"c":30},{"x":-3.22,"y":-3.42,"c":35},{"x":-2.67,"y":-3.42,"c":60},{"x":-2.12,"y":-3.42,"c":200},{"x":-1.56,"y":-3.42,"c":300},{"x":-1.01,"y":-3.42,"c":400},{"x":-0.45,"y":-3.42,"c":100},{"x":0.1,"y":-3.42,"c":14},{"x":0.66,"y":-3.42,"c":14},{"x":1.21,"y":-3.42,"c":20},{"x":1.77,"y":-3.42,"c":25},{"x":2.32,"y":-3.42,"c":7},{"x":2.87,"y":-3.42,"c":12},{"x":3.43,"y":-3.42,"c":25},{"x":3.98,"y":-3.42,"c":35},{"x":4.54,"y":-3.42,"c":130},{"x":5.09,"y":-3.42,"c":7},{"x":5.65,"y":-3.42,"c":25},
{"x":-11.27,"y":-3.95,"c":5000},{"x":-10.71,"y":-3.95,"c":1000},{"x":-10.16,"y":-3.95,"c":60},{"x":-9.6,"y":-3.95,"c":30},{"x":-9.05,"y":-3.95,"c":30},{"x":-8.49,"y":-3.95,"c":14},{"x":-7.94,"y":-3.95,"c":25},{"x":-7.39,"y":-3.95,"c":25},{"x":-6.83,"y":-3.95,"c":60},{"x":-6.28,"y":-3.95,"c":35},{"x":-5.72,"y":-3.95,"c":12},{"x":-5.17,"y":-3.95,"c":8},{"x":-4.61,"y":-3.95,"c":60},{"x":-4.06,"y":-3.95,"c":60},{"x":-3.5,"y":-3.95,"c":60},{"x":-2.95,"y":-3.95,"c":60},{"x":-2.4,"y":-3.95,"c":160},{"x":-1.84,"y":-3.95,"c":250},{"x":-1.29,"y":-3.95,"c":300},{"x":-0.73,"y":-3.95,"c":250},{"x":-0.18,"y":-3.95,"c":150},{"x":0.38,"y":-3.95,"c":40},{"x":0.93,"y":-3.95,"c":20},{"x":1.49,"y":-3.95,"c":50},{"x":2.04,"y":-3.95,"c":30},{"x":2.59,"y":-3.95,"c":14},{"x":3.15,"y":-3.95,"c":25},{"x":3.7,"y":-3.95,"c":25},{"x":4.26,"y":-3.95,"c":4},{"x":4.81,"y":-3.95,"c":20},{"x":5.37,"y":-3.95,"c":25},{"x":5.92,"y":-3.95,"c":1},
{"x":-11.54,"y":-4.48,"c":120},{"x":-10.99,"y":-4.48,"c":800},{"x":-10.43,"y":-4.48,"c":80},{"x":-9.88,"y":-4.48,"c":200},{"x":-9.32,"y":-4.48,"c":400},{"x":-8.77,"y":-4.48,"c":400},{"x":-8.21,"y":-4.48,"c":130},{"x":-7.66,"y":-4.48,"c":60},{"x":-7.11,"y":-4.48,"c":50},{"x":-6.55,"y":-4.48,"c":30},{"x":-6,"y":-4.48,"c":8},{"x":-5.44,"y":-4.48,"c":4},{"x":-4.89,"y":-4.48,"c":8},{"x":-4.33,"y":-4.48,"c":60},{"x":-3.78,"y":-4.48,"c":200},{"x":-3.22,"y":-4.48,"c":100},{"x":-2.67,"y":-4.48,"c":30},{"x":-2.12,"y":-4.48,"c":30},{"x":-1.56,"y":-4.48,"c":60},{"x":-1.01,"y":-4.48,"c":80},{"x":-0.45,"y":-4.48,"c":80},{"x":0.1,"y":-4.48,"c":40},{"x":0.66,"y":-4.48,"c":40},{"x":1.21,"y":-4.48,"c":60},{"x":1.77,"y":-4.48,"c":60},{"x":2.32,"y":-4.48,"c":30},{"x":2.87,"y":-4.48,"c":14},{"x":3.43,"y":-4.48,"c":30},{"x":3.98,"y":-4.48,"c":200},{"x":4.54,"y":-4.48,"c":8},{"x":5.09,"y":-4.48,"c":8},{"x":5.65,"y":-4.48,"c":12},
{"x":-9.6,"y":-5.01,"c":3},{"x":-9.05,"y":-5.01,"c":100},{"x":-8.49,"y":-5.01,"c":700},{"x":-7.94,"y":-5.01,"c":700},{"x":-7.39,"y":-5.01,"c":300},{"x":-6.83,"y":-5.01,"c":60},{"x":-6.28,"y":-5.01,"c":60},{"x":-5.72,"y":-5.01,"c":100},{"x":-5.17,"y":-5.01,"c":200},{"x":-4.61,"y":-5.01,"c":100},{"x":-4.06,"y":-5.01,"c":150},{"x":-3.5,"y":-5.01,"c":100},{"x":-2.95,"y":-5.01,"c":60},{"x":-2.4,"y":-5.01,"c":160},{"x":-1.84,"y":-5.01,"c":200},{"x":-1.29,"y":-5.01,"c":200},{"x":-0.73,"y":-5.01,"c":160},{"x":-0.18,"y":-5.01,"c":100},{"x":0.38,"y":-5.01,"c":80},{"x":0.93,"y":-5.01,"c":60},{"x":1.49,"y":-5.01,"c":60},{"x":2.04,"y":-5.01,"c":60},{"x":2.59,"y":-5.01,"c":30},{"x":3.15,"y":-5.01,"c":20},{"x":3.7,"y":-5.01,"c":40},{"x":4.26,"y":-5.01,"c":100},{"x":4.81,"y":-5.01,"c":7},{"x":5.37,"y":-5.01,"c":14},{"x":5.92,"y":-5.01,"c":1},
{"x":-6.55,"y":-5.54,"c":3},{"x":-6,"y":-5.54,"c":25},{"x":-5.44,"y":-5.54,"c":400},{"x":-4.89,"y":-5.54,"c":1200},{"x":-4.33,"y":-5.54,"c":900},{"x":-3.78,"y":-5.54,"c":200},{"x":-3.22,"y":-5.54,"c":150},{"x":-2.67,"y":-5.54,"c":300},{"x":-2.12,"y":-5.54,"c":250},{"x":-1.56,"y":-5.54,"c":250},{"x":-1.01,"y":-5.54,"c":250},{"x":-0.45,"y":-5.54,"c":250},{"x":0.1,"y":-5.54,"c":220},{"x":0.66,"y":-5.54,"c":220},{"x":1.21,"y":-5.54,"c":200},{"x":1.77,"y":-5.54,"c":150},{"x":2.32,"y":-5.54,"c":100},{"x":2.87,"y":-5.54,"c":60},{"x":3.43,"y":-5.54,"c":35},{"x":3.98,"y":-5.54,"c":35},{"x":4.54,"y":-5.54,"c":35},{"x":5.09,"y":-5.54,"c":30},{"x":5.65,"y":-5.54,"c":20},
{"x":-4.06,"y":-6.07,"c":14},{"x":-3.5,"y":-6.07,"c":20},{"x":-2.95,"y":-6.07,"c":14},{"x":-2.4,"y":-6.07,"c":160},{"x":-1.84,"y":-6.07,"c":800},{"x":-1.29,"y":-6.07,"c":1000},{"x":-0.73,"y":-6.07,"c":1000},{"x":-0.18,"y":-6.07,"c":500},{"x":0.38,"y":-6.07,"c":250},{"x":0.93,"y":-6.07,"c":300},{"x":1.49,"y":-6.07,"c":900},{"x":2.04,"y":-6.07,"c":700},{"x":2.59,"y":-6.07,"c":200},{"x":3.15,"y":-6.07,"c":100},{"x":3.7,"y":-6.07,"c":60},{"x":4.26,"y":-6.07,"c":60},{"x":4.81,"y":-6.07,"c":35},{"x":5.37,"y":-6.07,"c":25},{"x":5.92,"y":-6.07,"c":25},
{"x":-1.56,"y":-6.61,"c":5},{"x":-1.01,"y":-6.61,"c":35},{"x":-0.45,"y":-6.61,"c":100},{"x":0.1,"y":-6.61,"c":200},{"x":0.66,"y":-6.61,"c":200},{"x":1.21,"y":-6.61,"c":6000},{"x":1.77,"y":-6.61,"c":6000},{"x":2.32,"y":-6.61,"c":2000},{"x":2.87,"y":-6.61,"c":2000},{"x":3.43,"y":-6.61,"c":2000},{"x":3.98,"y":-6.61,"c":1500},{"x":4.54,"y":-6.61,"c":350},{"x":5.09,"y":-6.61,"c":250},{"x":5.65,"y":-6.61,"c":300},{"x":6.2,"y":-6.61,"c":40},{"x":6.76,"y":-6.61,"c":1},
{"x":-0.18,"y":-7.14,"c":4},{"x":0.38,"y":-7.14,"c":2500},{"x":0.93,"y":-7.14,"c":2500},{"x":1.49,"y":-7.14,"c":3500},{"x":2.04,"y":-7.14,"c":1200},{"x":2.59,"y":-7.14,"c":1500},{"x":3.15,"y":-7.14,"c":1500},{"x":3.7,"y":-7.14,"c":800},{"x":4.26,"y":-7.14,"c":500},{"x":4.81,"y":-7.14,"c":800},{"x":5.37,"y":-7.14,"c":700},{"x":5.92,"y":-7.14,"c":800},{"x":6.48,"y":-7.14,"c":60},
{"x":0.66,"y":-7.67,"c":14},{"x":1.21,"y":-7.67,"c":800},{"x":1.77,"y":-7.67,"c":1800},{"x":2.32,"y":-7.67,"c":2000},{"x":2.87,"y":-7.67,"c":3500},{"x":3.43,"y":-7.67,"c":1800},{"x":3.98,"y":-7.67,"c":1200},{"x":4.54,"y":-7.67,"c":500},{"x":5.09,"y":-7.67,"c":180},{"x":5.65,"y":-7.67,"c":130},{"x":6.2,"y":-7.67,"c":800},{"x":6.76,"y":-7.67,"c":3},
{"x":0.93,"y":-8.2,"c":1},{"x":1.49,"y":-8.2,"c":25},{"x":2.04,"y":-8.2,"c":80},{"x":2.59,"y":-8.2,"c":800},{"x":3.15,"y":-8.2,"c":1500},{"x":3.7,"y":-8.2,"c":2500},{"x":4.26,"y":-8.2,"c":2500},{"x":4.81,"y":-8.2,"c":350},{"x":5.37,"y":-8.2,"c":350},{"x":5.92,"y":-8.2,"c":300},{"x":6.48,"y":-8.2,"c":100},
{"x":1.77,"y":-8.73,"c":3},{"x":2.32,"y":-8.73,"c":90},{"x":2.87,"y":-8.73,"c":220},{"x":3.43,"y":-8.73,"c":350},{"x":3.98,"y":-8.73,"c":450},{"x":4.54,"y":-8.73,"c":500},{"x":5.09,"y":-8.73,"c":300},{"x":5.65,"y":-8.73,"c":300},{"x":6.2,"y":-8.73,"c":350},{"x":6.76,"y":-8.73,"c":6},
{"x":2.59,"y":-9.26,"c":6},{"x":3.15,"y":-9.26,"c":60},{"x":3.7,"y":-9.26,"c":60},{"x":4.26,"y":-9.26,"c":100},{"x":4.81,"y":-9.26,"c":100},{"x":5.37,"y":-9.26,"c":120},{"x":5.92,"y":-9.26,"c":1000},{"x":6.48,"y":-9.26,"c":900},
{"x":3.43,"y":-9.8,"c":3},{"x":3.98,"y":-9.8,"c":12},{"x":4.54,"y":-9.8,"c":14},{"x":5.09,"y":-9.8,"c":35},{"x":5.65,"y":-9.8,"c":130},{"x":6.2,"y":-9.8,"c":400},
{"x":4.81,"y":-10.33,"c":6},{"x":5.37,"y":-10.33,"c":10},{"x":5.92,"y":-10.33,"c":20}
]},"hconcat":[{"width":1527,"height":1566,"title":{"text":"Bounding radius = 2","anchor":"start","dx":506,"fontSize":91,"fontWeight":"normal","font":"DejaVu Sans","offset":-92,"color":"black"},"layer":[{"data":{"name":"hex"},"mark":{"type":"point","shape":"M0,-1L0.8,-0.5L0.8,0.5L0,1L-0.8,0.5L-0.8,-0.5Z","filled":true,"size":1089,"strokeWidth":0,"opacity":1},"encoding":{"x":{"field":"x","type":"quantitative","scale":{"domain":[-13.94,19.4],"nice":false,"zero":false},"title":"UMAP DIM1 [a.u.]","axis":{"values":[-12,-10,-8,-6,-4,-2,0,2,4,6,8,10,12,14,16,18],"labelExpr":"datum.value%10==0?(datum.value<0?'−':'')+abs(datum.value):''","labelFontSize":72,"labelColor":"black","labelPadding":20,"labelFlush":false,"labelOverlap":false,"titleFontSize":76,"titleFontWeight":"normal","titleColor":"black","titlePadding":20,"domain":false,"tickColor":"#222","tickSize":{"condition":{"test":"datum.value%10==0","value":15},"value":11},"tickWidth":{"condition":{"test":"datum.value%10==0","value":3},"value":2},"grid":true,"gridColor":"#aaaaaa","gridOpacity":0.8,"gridDash":{"condition":{"test":"datum.value%10==0","value":[]},"value":[4,6]},"gridWidth":{"condition":{"test":"datum.value%10==0","value":3},"value":2},"zindex":1}},"y":{"field":"y","type":"quantitative","scale":{"domain":[-13.39,20.85],"nice":false,"zero":false},"title":"UMAP DIM2 [a.u.]","axis":{"values":[-13,-12,-11,-10,-9,-8,-7,-6,-5,-4,-3,-2,-1,0,1,2,3,4,5,6,7,8,9,10,11,12,13,14,15,16,17,18,19,20],"labelExpr":"datum.value%5==0?(datum.value<0?'−':'')+abs(datum.value):''","labelFontSize":72,"labelColor":"black","labelPadding":18,"labelOverlap":false,"labelFlush":false,"titleFontSize":76,"titleFontWeight":"normal","titleColor":"black","titlePadding":32,"domain":false,"tickColor":"#222","tickSize":{"condition":{"test":"datum.value%5==0","value":15},"value":11},"tickWidth":{"condition":{"test":"datum.value%5==0","value":3},"value":2},"grid":true,"gridColor":"#aaaaaa","gridOpacity":0.8,"gridDash":{"condition":{"test":"datum.value%5==0","value":[]},"value":[4,6]},"gridWidth":{"condition":{"test":"datum.value%5==0","value":3},"value":2},"zindex":1}},"color":{"field":"c","type":"quantitative","legend":null,"scale":{"type":"log","domain":[1,1.931,3.728,7.197,13.9,26.83,51.79,100,193.1,372.8,719.7,1389,2683,5179,10000],"range":["#30123b","#4145ab","#4675ed","#39a2fc","#1bcfd4","#24eca6","#61fc6c","#a4fc3b","#d1e834","#f3c63a","#fe9b2d","#f36315","#d93806","#b11901","#7a0402"]}}}},{"data":{"values":[{"x":1.03,"y":14.73}]},"mark":{"type":"point","shape":"circle","filled":false,"stroke":"black","strokeWidth":4,"size":153664,"opacity":1},"encoding":{"x":{"field":"x","type":"quantitative"},"y":{"field":"y","type":"quantitative"}}},{"data":{"values":[{"x":13.09,"y":6.6}]},"mark":{"type":"point","shape":"circle","filled":false,"stroke":"black","strokeWidth":4,"size":194481,"opacity":1},"encoding":{"x":{"field":"x","type":"quantitative"},"y":{"field":"y","type":"quantitative"}}},{"data":{"values":[{"x":-7.13,"y":-1.585}]},"mark":{"type":"point","shape":"circle","filled":false,"stroke":"black","strokeWidth":4,"size":234256,"opacity":1},"encoding":{"x":{"field":"x","type":"quantitative"},"y":{"field":"y","type":"quantitative"}}},{"data":{"values":[{"x":3.75,"y":-7.76}]},"mark":{"type":"point","shape":"circle","filled":false,"stroke":"black","strokeWidth":4,"size":140625,"opacity":1},"encoding":{"x":{"field":"x","type":"quantitative"},"y":{"field":"y","type":"quantitative"}}},{"data":{"values":[{"x":11.76,"y":21.59,"t":"σ"}]},"mark":{"type":"text","font":"DejaVu Sans","fontStyle":"italic","fontSize":91,"align":"center","baseline":"alphabetic","color":"black"},"encoding":{"x":{"field":"x","type":"quantitative"},"y":{"field":"y","type":"quantitative"},"text":{"field":"t"}}},{"data":{"values":[{"x":13.7,"y":21.2,"t":"x, y"}]},"mark":{"type":"text","font":"DejaVu Sans","fontStyle":"italic","fontSize":64,"align":"center","baseline":"alphabetic","color":"black"},"encoding":{"x":{"field":"x","type":"quantitative"},"y":{"field":"y","type":"quantitative"},"text":{"field":"t"}}},{"data":{"values":[{"x":11.21,"x2":14.99,"y":22.97}]},"mark":{"type":"rule","color":"black","strokeWidth":5},"encoding":{"x":{"field":"x","type":"quantitative"},"x2":{"field":"x2"},"y":{"field":"y","type":"quantitative"}}}]},{"width":80,"height":1566,"data":{"values":[{"lo":1,"hi":10000}]},"mark":{"type":"rect","stroke":"#222","strokeWidth":3,"color":{"gradient":"linear","x1":0,"y1":1,"x2":0,"y2":0,"stops":[{"offset":0,"color":"#30123b"},{"offset":0.0714,"color":"#4145ab"},{"offset":0.1429,"color":"#4675ed"},{"offset":0.2143,"color":"#39a2fc"},{"offset":0.2857,"color":"#1bcfd4"},{"offset":0.3571,"color":"#24eca6"},{"offset":0.4286,"color":"#61fc6c"},{"offset":0.5,"color":"#a4fc3b"},{"offset":0.5714,"color":"#d1e834"},{"offset":0.6429,"color":"#f3c63a"},{"offset":0.7143,"color":"#fe9b2d"},{"offset":0.7857,"color":"#f36315"},{"offset":0.8571,"color":"#d93806"},{"offset":0.9286,"color":"#b11901"},{"offset":1,"color":"#7a0402"}]}},"encoding":{"x":{"datum":0,"type":"quantitative","scale":{"domain":[0,1],"nice":false},"axis":null},"x2":{"datum":1},"y":{"field":"lo","type":"quantitative","scale":{"type":"log","domain":[1,10000],"nice":false},"title":"counts [#]","axis":{"orient":"right","values":[1,2,3,4,5,6,7,8,9,10,20,30,40,50,60,70,80,90,100,200,300,400,500,600,700,800,900,1000,2000,3000,4000,5000,6000,7000,8000,9000,10000],"labelExpr":"datum.value==1?'10⁰':datum.value==10?'10¹':datum.value==100?'10²':datum.value==1000?'10³':datum.value==10000?'10⁴':''","labelFontSize":76,"labelColor":"black","labelPadding":19,"labelOverlap":false,"labelFlush":false,"titleFontSize":76,"titleFontWeight":"normal","titleColor":"black","titleAngle":270,"titlePadding":98,"grid":false,"domain":false,"tickColor":"#222","tickSize":{"condition":{"test":"indexof([1,10,100,1000,10000],datum.value)>=0","value":15},"value":10},"tickWidth":{"condition":{"test":"indexof([1,10,100,1000,10000],datum.value)>=0","value":3},"value":2}}},"y2":{"field":"hi"}}}]}
